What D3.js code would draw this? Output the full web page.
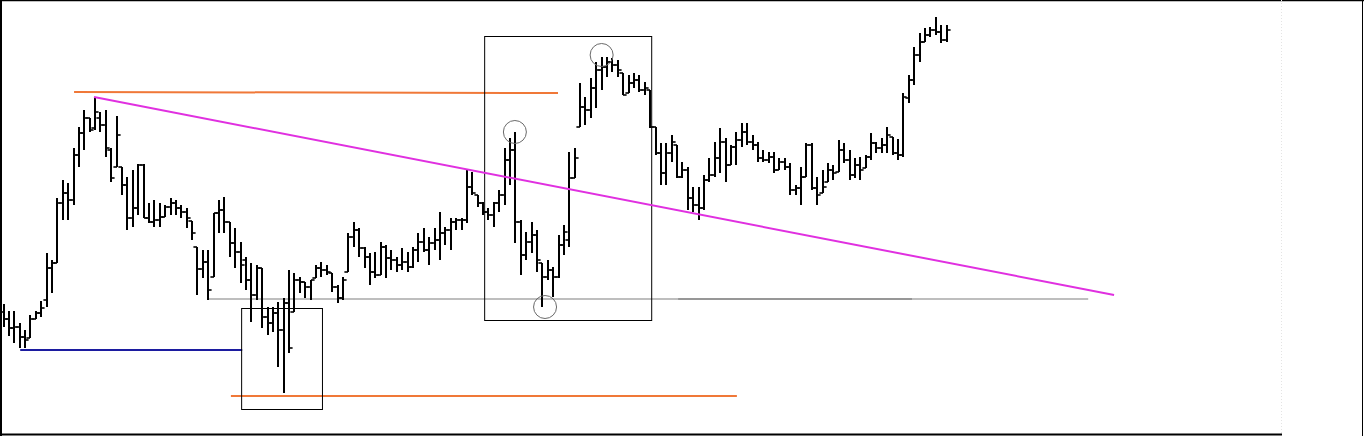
<!DOCTYPE html>
<html>
<head>
<meta charset="utf-8">
<script src="https://cdn.jsdelivr.net/npm/d3@7/dist/d3.min.js"></script>
<style>
html,body{margin:0;padding:0;background:#fff;overflow:hidden;}
svg{display:block;}
</style>
</head>
<body>
<svg id="chart" width="1364" height="436"></svg>
<script>
// ---------- DATA (price units) ----------
const highs = [13.6,12.9,12.9,11.7,11.0,12.5,12.9,13.9,18.7,18.0,
24.2,26.0,25.7,29.2,31.3,33.0,32.2,34.3,32.8,33.0,
29.2,32.4,27.3,26.3,27.0,27.6,27.6,23.7,24.0,23.7,
23.5,24.2,24.0,23.5,23.2,21.9,19.3,19.0,19.0,22.7,
24.0,24.3,21.8,21.2,19.8,18.3,17.7,17.5,17.2,13.3,
13.3,13.8,14.2,17.0,16.7,16.3,15.8,16.0,17.5,17.8,
17.5,16.7,15.5,16.3,20.7,21.8,21.2,19.3,18.7,18.8,
19.8,19.5,19.0,18.3,19.2,18.8,19.3,20.7,21.2,20.3,
21.2,22.8,21.3,22.2,22.2,22.2,27.0,26.8,24.5,23.8,
23.2,23.8,25.0,29.2,30.2,30.8,22.0,20.8,21.8,21.0,
17.7,18.0,17.3,20.5,21.5,28.8,29.2,35.7,34.3,36.2,
37.8,38.3,38.3,38.2,38.0,36.7,36.5,36.7,36.5,35.8,
35.0,31.3,29.7,29.7,30.5,29.5,27.8,27.3,25.3,25.3,
26.5,28.2,29.8,31.2,30.2,29.5,30.8,31.7,31.7,30.5,
29.8,29.0,28.8,28.8,28.2,28.2,27.7,25.5,27.3,29.7,
29.7,26.3,27.0,27.7,27.5,30.0,29.7,29.0,28.2,28.3,
28.5,30.7,29.8,30.2,31.3,30.3,30.1,34.7,36.5,39.3,
40.7,41.2,41.3,42.3,41.5,41.5];

const lows = [11.3,10.4,9.7,9.2,9.2,10.2,12.1,12.3,13.3,14.7,
17.7,22.0,22.0,23.5,27.3,29.0,30.8,31.0,30.8,28.3,
25.8,27.3,24.5,21.0,21.3,22.5,22.2,21.7,21.3,21.3,
22.3,22.5,22.5,22.2,21.2,20.0,14.5,16.2,14.0,16.3,
20.7,20.7,18.3,17.2,15.7,15.0,11.8,14.0,11.2,10.5,
10.8,7.3,4.7,8.7,12.8,14.7,14.2,14.0,16.2,16.3,
16.5,14.8,13.7,14.0,16.8,19.3,18.3,17.2,15.5,16.2,
16.5,16.2,17.0,16.8,17.0,16.8,17.2,17.8,18.8,17.5,
19.0,18.0,19.5,19.0,21.0,21.0,21.7,24.5,23.3,22.5,
22.0,21.3,22.8,23.5,25.5,19.7,16.5,18.0,18.7,16.8,
13.3,16.0,14.3,16.2,18.5,19.3,26.2,31.3,31.5,32.2,
33.2,35.0,36.3,36.8,36.3,34.5,34.7,35.2,34.8,34.5,
31.2,28.5,25.5,25.5,27.8,26.2,26.2,23.0,22.8,22.0,
23.0,25.8,26.3,26.7,25.8,27.5,27.5,29.3,29.5,29.0,
27.8,27.8,27.7,26.7,27.0,27.0,24.5,24.5,23.5,26.3,
25.0,23.5,24.7,25.8,26.0,26.8,27.7,26.0,26.2,26.0,
27.2,28.0,28.7,28.7,28.7,28.5,28.0,28.3,33.7,35.5,
37.8,39.8,40.3,40.5,39.7,39.8];

const opens = [12.8,12.1,11.2,11.3,10.3,10.2,12.1,12.7,14.0,17.2,
17.7,23.7,24.7,24.0,28.5,30.7,32.2,31.2,32.2,31.5,
29.0,27.3,27.3,25.5,22.2,23.2,27.5,22.2,21.8,22.0,
22.3,23.3,23.7,23.2,22.8,21.9,19.3,17.1,17.8,16.3,
22.7,23.0,21.8,19.7,18.8,18.0,16.0,14.5,17.2,12.3,
11.7,12.7,11.0,13.7,12.8,16.0,15.8,15.3,16.2,17.2,
17.0,16.7,15.3,14.2,16.8,20.3,21.0,19.2,18.3,16.8,
16.5,19.3,18.2,18.0,17.5,17.8,17.3,19.0,19.8,19.0,
19.7,20.0,20.7,21.0,21.8,22.0,22.0,25.3,24.5,23.7,
22.8,22.5,23.7,24.5,28.0,29.0,21.8,18.5,19.8,20.5,
17.7,16.3,17.0,16.3,19.5,20.0,26.2,31.3,33.3,33.0,
35.2,37.0,37.3,37.8,37.5,36.7,34.7,35.7,36.0,35.0,
35.0,31.3,28.7,26.7,28.7,29.5,26.3,27.0,24.2,23.5,
23.2,26.0,26.5,28.2,29.8,27.5,29.3,30.0,30.8,29.8,
29.5,28.2,28.0,28.3,27.0,27.8,27.3,25.0,25.2,26.3,
29.5,25.2,24.7,25.8,27.0,26.8,29.0,28.0,26.5,27.5,
27.2,28.3,29.7,29.2,29.5,30.3,28.7,28.5,34.2,36.0,
38.5,39.8,40.5,41.0,40.8,40.0];

const closes = [12.1,11.2,11.3,10.3,10.0,12.1,12.7,13.2,17.2,17.7,
23.7,24.7,24.0,28.5,30.7,32.2,31.0,32.8,31.5,29.2,
26.2,30.5,25.5,22.2,23.2,27.5,22.2,21.8,22.0,22.3,
23.3,23.7,23.2,22.8,22.2,20.7,17.1,17.8,15.0,22.7,
23.0,21.8,19.7,18.8,17.5,16.0,14.5,17.2,12.3,11.7,
12.7,11.0,13.7,9.2,16.0,15.8,15.3,16.0,17.2,17.0,
16.8,15.3,14.2,16.0,20.3,21.0,19.2,18.3,16.8,16.5,
19.3,18.2,18.0,17.5,17.8,17.3,19.0,19.8,19.0,19.7,
20.0,20.7,21.0,21.8,22.0,22.0,25.3,24.7,23.7,22.8,
22.5,23.7,24.5,28.0,29.0,21.8,18.5,19.8,20.5,18.0,
16.3,17.0,16.3,19.5,20.8,26.2,28.2,33.3,33.0,35.2,
37.0,37.3,37.8,37.5,37.0,34.5,35.7,36.0,35.0,35.2,
31.3,28.7,26.7,28.7,29.8,26.3,27.0,24.2,23.5,23.2,
26.0,26.5,28.2,29.8,27.5,29.3,30.0,30.8,29.8,29.5,
28.2,28.0,28.3,27.0,27.8,27.3,25.0,25.2,26.3,29.5,
25.2,24.5,25.3,27.0,26.7,29.0,28.0,26.5,27.5,27.0,
28.3,29.7,29.2,29.5,30.5,28.7,28.5,34.3,36.0,38.5,
39.8,40.5,41.0,40.8,40.0,41.0];

// Annotation lines: [startIndex, startPrice, endIndex, endPrice]
const resistanceTop = [13.1, 34.8, 102.9, 34.7];
const trendLine     = [16.8, 34.3, 206.1, 14.5];
const supportBlue   = [3.1, 9.0, 44.3, 9.0];
const supportGray   = [38.0, 14.1, 201.3, 14.1];
const supportGrayDark = [125.2, 14.1, 168.6, 14.1];
const supportLow    = [42.2, 4.4, 136.1, 4.4];
// Boxes: [leftIndex, topPrice, rightIndex, bottomPrice]
const boxes = [[44.1, 13.2, 59.1, 3.1], [89.2, 40.4, 120.2, 12.0]];
// Circles: [index, price]
const circles = [[94.9, 30.8], [111.0, 38.5], [100.5, 13.3]];

// ---------- CHART ----------
const W = 1364, H = 436;
const svg = d3.select("#chart");
const n = highs.length;
const bars = d3.range(n).map(i => ({i, o: opens[i], h: highs[i], l: lows[i], c: closes[i]}));

const x = d3.scaleLinear().domain([0, n - 1]).range([3.5, 946.5]);
const y = d3.scaleLinear().domain([0, 44]).range([440, 0]);

// frame
const frame = svg.append("g");
frame.append("line").attr("x1",1).attr("x2",1).attr("y1",0).attr("y2",436).attr("stroke","#000").attr("stroke-width",2);
frame.append("line").attr("x1",0).attr("x2",1364).attr("y1",0.5).attr("y2",0.5).attr("stroke","#000").attr("stroke-width",1.5);
frame.append("line").attr("x1",1362.5).attr("x2",1362.5).attr("y1",0).attr("y2",436).attr("stroke","#000").attr("stroke-width",1);
frame.append("line").attr("x1",0).attr("x2",1282).attr("y1",434.5).attr("y2",434.5).attr("stroke","#000").attr("stroke-width",2);
frame.append("line").attr("x1",1281.5).attr("x2",1281.5).attr("y1",0).attr("y2",434).attr("stroke","#e4e4e4").attr("stroke-width",1).attr("stroke-dasharray","1,2");

function seg(g, s, color, width) {
  g.append("line")
    .attr("x1", x(s[0])).attr("y1", y(s[1]))
    .attr("x2", x(s[2])).attr("y2", y(s[3]))
    .attr("stroke", color).attr("stroke-width", width);
}

const ann = svg.append("g");
seg(ann, supportGray, "#a8a8a8", 1.5);
seg(ann, supportGrayDark, "#707070", 1.2);
seg(ann, supportBlue, "#1c1ca0", 2);
seg(ann, resistanceTop, "#f07838", 2);
seg(ann, supportLow, "#f07838", 2);

boxes.forEach(b => {
  ann.append("rect")
    .attr("x", x(b[0]) + 0.5).attr("y", y(b[1]) + 0.5)
    .attr("width", x(b[2]) - x(b[0])).attr("height", y(b[3]) - y(b[1]))
    .attr("fill", "none").attr("stroke", "#000").attr("stroke-width", 1);
});

// OHLC bars
const bg = svg.append("g");
const tick = 2.6;
bars.forEach(d => {
  const cx = Math.round(x(d.i));
  bg.append("line").attr("x1", cx).attr("x2", cx)
    .attr("y1", y(d.h)).attr("y2", y(d.l))
    .attr("stroke", "#000").attr("stroke-width", 2);
  bg.append("line").attr("x1", cx - tick - 1).attr("x2", cx)
    .attr("y1", y(d.o)).attr("y2", y(d.o))
    .attr("stroke", "#000").attr("stroke-width", 1.6);
  bg.append("line").attr("x1", cx).attr("x2", cx + tick + 1)
    .attr("y1", y(d.c)).attr("y2", y(d.c))
    .attr("stroke", "#000").attr("stroke-width", 1.6);
});

// trend line over bars
seg(svg.append("g"), trendLine, "#e030e0", 2);

// circles
const cg = svg.append("g");
circles.forEach(c => {
  cg.append("circle").attr("cx", x(c[0])).attr("cy", y(c[1])).attr("r", 11.5)
    .attr("fill", "none").attr("stroke", "#6a6a6a").attr("stroke-width", 1);
});
</script>
</body>
</html>
